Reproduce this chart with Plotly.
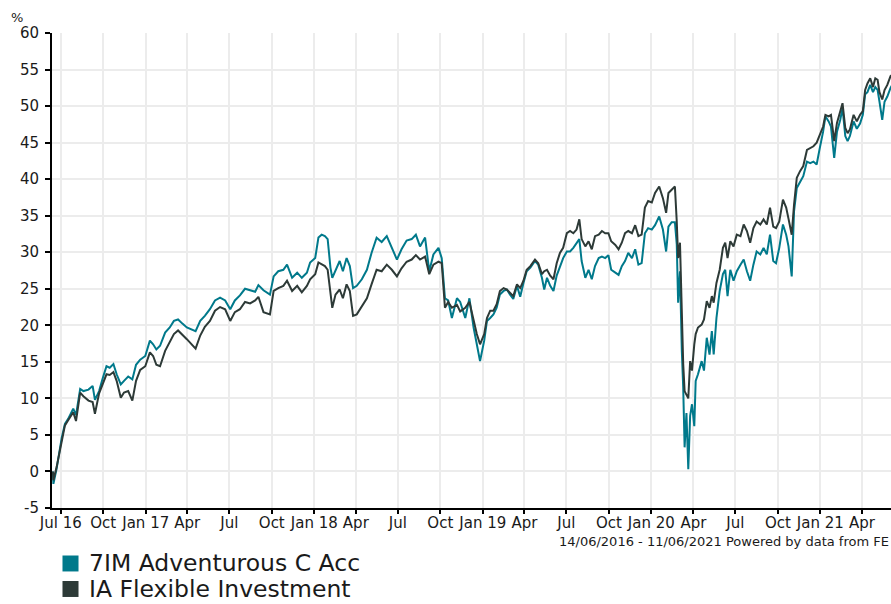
import plotly.graph_objects as go

# ---- data ----
dates = [
    "2016-06-14", "2016-06-15", "2016-06-22", "2016-07-03", "2016-07-10", "2016-07-17", "2016-07-28",
    "2016-08-03", "2016-08-12", "2016-08-19", "2016-08-30", "2016-09-08", "2016-09-13", "2016-09-22",
    "2016-09-30", "2016-10-08", "2016-10-15", "2016-10-23", "2016-10-30", "2016-11-08", "2016-11-15",
    "2016-11-24", "2016-12-03", "2016-12-11", "2016-12-20", "2016-12-31",
    "2017-01-10", "2017-01-17", "2017-01-24", "2017-02-01", "2017-02-12", "2017-02-22", "2017-03-03",
    "2017-03-12", "2017-03-22", "2017-03-31", "2017-04-19", "2017-04-29", "2017-05-09", "2017-05-20",
    "2017-05-31", "2017-06-11", "2017-06-22", "2017-07-03", "2017-07-13", "2017-07-24", "2017-08-04",
    "2017-08-15", "2017-08-26", "2017-09-02", "2017-09-13", "2017-09-27",
    "2017-10-05", "2017-10-15", "2017-10-26", "2017-11-03", "2017-11-14", "2017-11-25", "2017-12-05",
    "2017-12-16", "2017-12-23",
    "2018-01-03", "2018-01-10", "2018-01-17", "2018-01-24", "2018-01-30", "2018-02-05", "2018-02-09",
    "2018-02-16", "2018-02-25", "2018-03-04", "2018-03-12", "2018-03-19", "2018-03-26", "2018-04-03",
    "2018-04-14", "2018-04-25", "2018-05-05", "2018-05-16", "2018-05-27", "2018-06-07", "2018-06-18",
    "2018-06-29", "2018-07-09", "2018-07-20", "2018-07-31", "2018-08-09", "2018-08-18", "2018-08-29",
    "2018-09-07", "2018-09-16", "2018-09-27", "2018-10-04", "2018-10-11", "2018-10-18", "2018-10-26",
    "2018-11-06", "2018-11-13", "2018-11-24", "2018-12-03", "2018-12-12", "2018-12-19", "2018-12-26",
    "2019-01-04", "2019-01-10", "2019-01-17", "2019-01-24", "2019-01-31", "2019-02-07", "2019-02-15",
    "2019-02-22", "2019-03-01", "2019-03-08", "2019-03-16", "2019-03-23", "2019-03-30", "2019-04-06",
    "2019-04-14", "2019-04-24", "2019-05-01", "2019-05-09", "2019-05-14", "2019-05-20", "2019-05-27",
    "2019-06-03", "2019-06-10", "2019-06-17", "2019-06-24", "2019-07-02", "2019-07-09", "2019-07-16",
    "2019-07-23", "2019-07-29", "2019-08-03", "2019-08-11", "2019-08-18", "2019-08-25", "2019-09-01",
    "2019-09-09", "2019-09-16", "2019-09-23", "2019-09-30", "2019-10-06", "2019-10-15", "2019-10-22",
    "2019-10-29", "2019-11-05", "2019-11-12", "2019-11-20", "2019-11-27", "2019-12-04", "2019-12-11",
    "2019-12-18", "2019-12-25",
    "2020-01-02", "2020-01-09", "2020-01-18", "2020-01-26", "2020-02-02", "2020-02-07", "2020-02-14",
    "2020-02-21", "2020-02-25", "2020-02-28", "2020-03-03", "2020-03-07", "2020-03-10", "2020-03-13",
    "2020-03-17", "2020-03-21", "2020-03-25", "2020-03-29", "2020-04-03", "2020-04-06", "2020-04-11",
    "2020-04-19", "2020-04-24", "2020-04-30", "2020-05-06", "2020-05-11", "2020-05-15", "2020-05-21",
    "2020-05-28", "2020-06-04", "2020-06-09", "2020-06-14", "2020-06-20", "2020-06-27", "2020-07-04",
    "2020-07-12", "2020-07-19", "2020-07-26", "2020-08-02", "2020-08-09", "2020-08-16", "2020-08-24",
    "2020-08-31", "2020-09-07", "2020-09-14", "2020-09-21", "2020-09-27", "2020-10-04", "2020-10-12",
    "2020-10-19", "2020-10-24", "2020-10-31", "2020-11-05", "2020-11-11", "2020-11-18", "2020-11-25",
    "2020-12-03", "2020-12-10", "2020-12-17", "2020-12-24", "2020-12-30",
    "2021-01-07", "2021-01-12", "2021-01-19", "2021-01-24", "2021-01-31", "2021-02-06", "2021-02-13",
    "2021-02-18", "2021-02-24", "2021-03-01", "2021-03-06", "2021-03-14", "2021-03-21", "2021-03-28",
    "2021-04-03", "2021-04-08", "2021-04-13", "2021-04-19", "2021-04-25", "2021-04-30", "2021-05-05",
    "2021-05-09", "2021-05-15", "2021-05-20", "2021-05-26", "2021-06-02", "2021-06-11",
]

fund_7im = [
    0, -1.7, 0.4, 4.6, 6.5, 7.2, 8.6, 7.7, 11.3, 11.0, 11.2, 11.7, 9.8, 11.0, 12.8, 14.4, 14.2, 14.7,
    13.3, 11.9, 12.4, 13.0, 12.6, 14.6, 15.3, 15.8,
    17.9, 17.4, 16.7, 17.2, 19.0, 19.7, 20.6, 20.8, 20.2, 19.7, 19.2, 20.6, 21.3, 22.2, 23.4, 23.8,
    23.4, 22.2, 23.4, 24.1, 25.0, 24.8, 24.6, 25.5, 24.8, 24.2,
    26.7, 27.4, 27.6, 28.3, 26.5, 27.2, 26.5, 27.2, 28.6,
    29.2, 32.0, 32.4, 32.2, 31.8, 27.9, 26.5, 27.6, 28.8, 27.4, 29.2, 28.1, 25.1, 25.4, 26.3, 27.6,
    29.9, 32.0, 31.4, 32.2, 30.6, 29.0, 30.4, 31.6, 31.8, 32.4, 30.8, 32.0, 27.4, 29.7, 30.6, 29.2,
    23.7, 23.4, 21.0, 23.7, 23.2, 21.0, 23.7, 19.7, 17.4, 15.1,
    17.9, 20.6, 21.0, 21.5, 22.4, 24.2, 24.7, 24.9, 24.2, 23.6, 25.4, 23.9, 25.8, 27.4, 27.9, 28.8,
    28.3, 26.5, 24.9, 26.5, 25.4, 24.7, 26.8, 27.9, 29.2, 30.1, 30.1, 30.6, 31.3, 31.8, 28.8, 26.5,
    27.6, 26.3, 28.1, 29.2, 29.4, 29.2, 29.6, 27.6, 27.2, 26.9, 28.1, 28.8, 29.9, 29.2, 30.4, 28.3,
    28.5, 32.6, 33.3,
    33.1, 33.7, 34.9, 33.1, 30.1, 33.5, 34.1, 34.1, 31.1, 23.1, 27.4, 16.5, 11.5, 3.3, 8.0, 0.3,
    7.6, 9.2, 6.2, 12.4, 13.3, 15.1, 13.8, 18.3, 16.0, 19.2, 16.0, 21.0, 24.7, 27.0, 27.6, 24.0,
    27.6, 26.1, 27.4, 28.3, 29.0, 27.4, 26.1, 28.3, 30.1, 29.7, 30.6, 29.7, 32.4, 28.8, 28.5, 30.6,
    33.8, 32.4, 30.8, 26.7, 35.6, 38.8, 39.7, 40.4, 42.4, 42.2, 42.4, 42.0, 44.0,
    46.5, 48.6, 47.9, 47.2, 42.9, 46.5, 48.1, 49.7, 45.9, 45.2, 45.9, 47.9, 46.9, 47.6, 48.8, 51.6,
    51.9, 52.9, 51.9, 52.6, 52.2, 50.6, 48.1, 50.6, 51.3, 52.5, 53.5,
]

sector_ia = [
    0, -1.2, 0.6, 4.4, 6.3, 7.0, 8.1, 6.9, 10.8, 10.3, 9.7, 9.5, 7.9, 10.7, 11.9, 13.3, 13.2, 13.6,
    12.4, 10.1, 10.8, 11.0, 9.7, 12.4, 13.9, 14.4,
    16.3, 15.8, 14.6, 14.4, 16.5, 17.8, 18.8, 19.3, 18.6, 18.1, 16.8, 18.6, 19.8, 20.6, 22.0, 22.5,
    22.2, 20.6, 21.8, 22.2, 23.2, 23.0, 23.4, 23.9, 21.8, 21.5,
    24.7, 25.1, 25.4, 26.1, 24.7, 25.4, 24.5, 25.4, 26.3,
    27.0, 28.6, 28.3, 28.1, 27.6, 24.2, 22.4, 24.2, 24.9, 23.7, 25.6, 24.7, 21.3, 21.5, 22.6, 23.7,
    25.6, 27.6, 27.4, 28.3, 27.6, 26.7, 27.8, 28.7, 29.0, 29.6, 29.0, 29.4, 27.0, 28.3, 28.7, 28.5,
    22.4, 23.2, 22.4, 22.8, 21.9, 22.4, 23.2, 20.6, 18.8, 17.4,
    18.8, 21.0, 22.0, 22.0, 22.9, 24.7, 25.1, 24.9, 24.4, 24.0, 25.6, 25.1, 26.1, 27.6, 28.1, 29.0,
    28.5, 27.0, 27.4, 27.6, 26.8, 26.3, 28.5, 29.9, 30.6, 32.6, 32.9, 32.6, 33.1, 34.5, 31.8, 30.8,
    31.5, 30.4, 32.2, 32.4, 32.9, 32.6, 32.6, 31.5, 31.0, 30.4, 31.3, 32.6, 32.9, 32.6, 33.7, 32.2,
    32.4, 36.1, 37.0,
    36.8, 38.1, 39.0, 37.4, 35.4, 38.1, 38.6, 39.0, 34.2, 29.2, 31.3, 20.0, 14.7, 11.0, 10.5, 10.0,
    15.1, 13.8, 17.4, 18.8, 19.7, 20.1, 20.8, 23.3, 22.4, 24.0, 23.1, 25.8, 27.6, 30.6, 31.3, 29.2,
    31.5, 30.8, 32.4, 32.2, 33.8, 32.9, 31.3, 33.3, 34.2, 33.8, 34.5, 33.8, 36.1, 33.5, 33.3, 34.2,
    37.2, 36.1, 34.6, 32.4, 36.5, 40.2, 41.1, 41.8, 44.0, 44.3, 44.5, 45.0, 45.9,
    47.2, 48.8, 48.6, 48.8, 45.2, 47.7, 49.3, 50.4, 47.0, 46.3, 46.8, 48.8, 47.9, 48.8, 49.3, 52.2,
    53.1, 53.8, 52.6, 53.8, 53.6, 51.9, 50.9, 52.2, 52.9, 54.1, 54.6,
]

series_names = ["7IM Adventurous C Acc", "IA Flexible Investment"]
series_colors = ["#00798b", "#2d3a37"]

x_tick_vals = [
    "2016-07-01", "2016-10-01", "2017-01-01", "2017-04-01", "2017-07-01", "2017-10-01",
    "2018-01-01", "2018-04-01", "2018-07-01", "2018-10-01", "2019-01-01", "2019-04-01",
    "2019-07-01", "2019-10-01", "2020-01-01", "2020-04-01", "2020-07-01", "2020-10-01",
    "2021-01-01", "2021-04-01",
]
x_tick_text = [
    "Jul 16", "Oct", "Jan 17", "Apr", "Jul", "Oct", "Jan 18", "Apr", "Jul", "Oct",
    "Jan 19", "Apr", "Jul", "Oct", "Jan 20", "Apr", "Jul", "Oct", "Jan 21", "Apr",
]
y_tick_vals = [-5, 0, 5, 10, 15, 20, 25, 30, 35, 40, 45, 50, 55, 60]
y_tick_text = ["-5", "0", "5", "10", "15", "20", "25", "30", "35", "40", "45", "50", "55", "60"]

date_note = "14/06/2016 - 11/06/2021 Powered by data from FE"

n = min(len(dates), len(fund_7im), len(sector_ia))

FONT = "DejaVu Sans, Verdana, sans-serif"
TXT = "#1a1a1a"

fig = go.Figure()
for vals, name, col in zip([fund_7im, sector_ia], series_names, series_colors):
    fig.add_trace(go.Scatter(
        x=dates[:n], y=vals[:n], mode="lines", name=name,
        line=dict(color=col, width=2), showlegend=False,
    ))

fig.update_layout(
    width=891, height=604,
    margin=dict(l=52, r=0, t=33, b=96),
    paper_bgcolor="white", plot_bgcolor="white",
    font=dict(family=FONT, color=TXT, size=15),
    showlegend=False,
)
fig.update_xaxes(
    type="date", range=["2016-06-12", "2021-06-03"],
    tickmode="array", tickvals=x_tick_vals, ticktext=x_tick_text,
    showgrid=True, gridcolor="#ececec", gridwidth=1.5,
    showline=True, linecolor="black", linewidth=2,
    ticks="outside", ticklen=4, tickwidth=2, tickcolor="black",
    ticklabelstandoff=-4,
    tickfont=dict(size=15, family=FONT, color=TXT), tickangle=0,
)
fig.update_yaxes(
    range=[-5, 60], tickmode="array", tickvals=y_tick_vals, ticktext=y_tick_text,
    showgrid=True, gridcolor="#ececec", gridwidth=1.5, zeroline=False,
    showline=True, linecolor="black", linewidth=2,
    ticks="outside", ticklen=5, tickwidth=2, tickcolor="black",
    ticklabelstandoff=3,
    tickfont=dict(size=15, family=FONT, color=TXT),
)

# "%" unit label
fig.add_annotation(text="%", xref="paper", yref="paper", x=-0.0417, y=1.0316,
                   xanchor="center", yanchor="middle", showarrow=False,
                   font=dict(size=13, family=FONT, color=TXT))
# date range / source note
fig.add_annotation(text=date_note, xref="paper", yref="paper", x=1.0, y=-0.0695,
                   xanchor="right", yanchor="middle", showarrow=False,
                   font=dict(size=13, family=FONT, color=TXT))

# legend drawn as square swatches + text
leg_y = [-0.1168, -0.1705]
for name, col, yc in zip(series_names, series_colors, leg_y):
    fig.add_shape(type="rect", xref="paper", yref="paper",
                  x0=0.0125, x1=0.0316, y0=yc - 0.0168, y1=yc + 0.0168,
                  fillcolor=col, line=dict(width=0))
    fig.add_annotation(text=name, xref="paper", yref="paper", x=0.0429, y=yc,
                       xanchor="left", yanchor="middle", showarrow=False, borderpad=0,
                       font=dict(size=23.5, family=FONT, color=TXT))

fig.write_html("out.html", include_plotlyjs=True, full_html=True,
               config={"displayModeBar": False},
               post_script="document.body.style.margin='0';document.body.style.overflow='hidden';")
